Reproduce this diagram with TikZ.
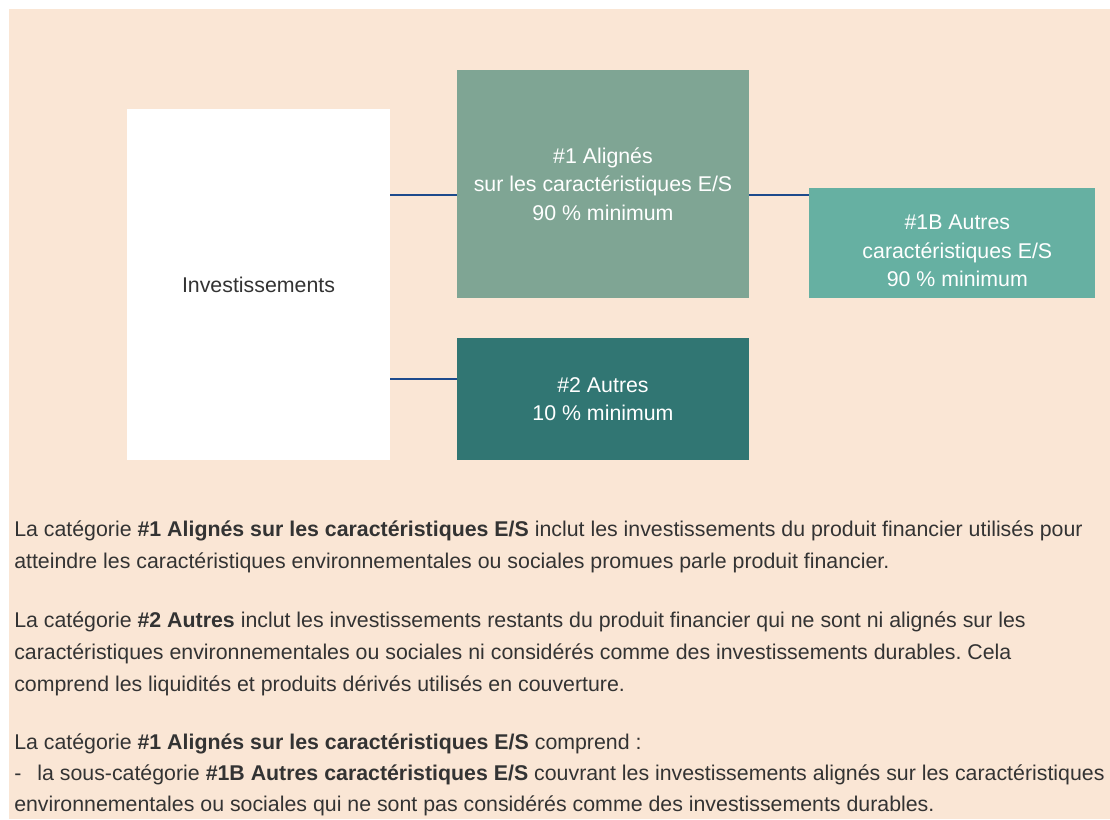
\documentclass[tikz,border=0pt]{standalone}
\usepackage{fontspec}
\setmainfont{Liberation Sans}
\frenchspacing
\definecolor{peach}{HTML}{FAE6D5}
\definecolor{alignes}{HTML}{7FA594}
\definecolor{autresES}{HTML}{66B0A2}
\definecolor{autres}{HTML}{317673}
\definecolor{linkblue}{HTML}{1D4A8C}
\definecolor{textgray}{HTML}{333333}
\begin{document}
\begin{tikzpicture}[x=0.75pt, y=-0.75pt,
	box/.style={inner sep=0pt, align=center, text=white, font=\fontsize{16}{21.4}\selectfont},
	link/.style={draw=linkblue, line width=2.2pt},
	para/.style={anchor=base west, inner sep=0pt, align=left, text=textgray, font=\fontsize{16}{24}\selectfont}]
	\useasboundingbox (0,0) rectangle (1110,819);
	\fill[peach] (9,9) rectangle (1110,819);

	\coordinate (lk1) at (0,195);
	\coordinate (lk2) at (0,379);

	\node[box, fill=white, text=textgray, minimum width=197.25pt, minimum height=263.25pt] (inv) at (258.5,284.5) {Investissements};
	\node[box, fill=alignes, minimum width=219pt, minimum height=171pt] (al) at (603,184) {\#1 Alignés\\sur les caractéristiques E/S\\90 \% minimum};
	\node[box, fill=autresES, minimum width=214.5pt, minimum height=82.5pt,
		label={[box, yshift=-6pt, xshift=4pt]center:\#1B Autres\\caractéristiques E/S\\90 \% minimum}] (b1) at (952,243) {};
	\node[box, fill=autres, minimum width=219pt, minimum height=91.5pt] (two) at (603,399) {\#2 Autres\\10 \% minimum};

	\draw[link] (inv.east |- lk1) -- (al.west |- lk1);
	\draw[link] (al.east |- lk1) -- (b1.west |- lk1);
	\draw[link] (inv.east |- lk2) -- (two.west |- lk2);

	\node[para] (p1) at (14,568) {La catégorie \textbf{\#1 Alignés sur les caractéristiques E/S} inclut les investissements du produit financier utilisés pour\\atteindre les caractéristiques environnementales ou sociales promues parle produit financier.};
	\node[para] (p2) at (14,691) {La catégorie \textbf{\#2 Autres} inclut les investissements restants du produit financier qui ne sont ni alignés sur les\\caractéristiques environnementales ou sociales ni considérés comme des investissements durables. Cela\\comprend les liquidités et produits dérivés utilisés en couverture.};
	\node[para, font=\fontsize{16}{22.9}\selectfont] (p3) at (14,811) {La catégorie \textbf{\#1 Alignés sur les caractéristiques E/S} comprend :\\-\hspace{12pt}la sous-catégorie \textbf{\#1B Autres caractéristiques E/S} couvrant les investissements alignés sur les caractéristiques\\environnementales ou sociales qui ne sont pas considérés comme des investissements durables.};
\end{tikzpicture}
\end{document}
